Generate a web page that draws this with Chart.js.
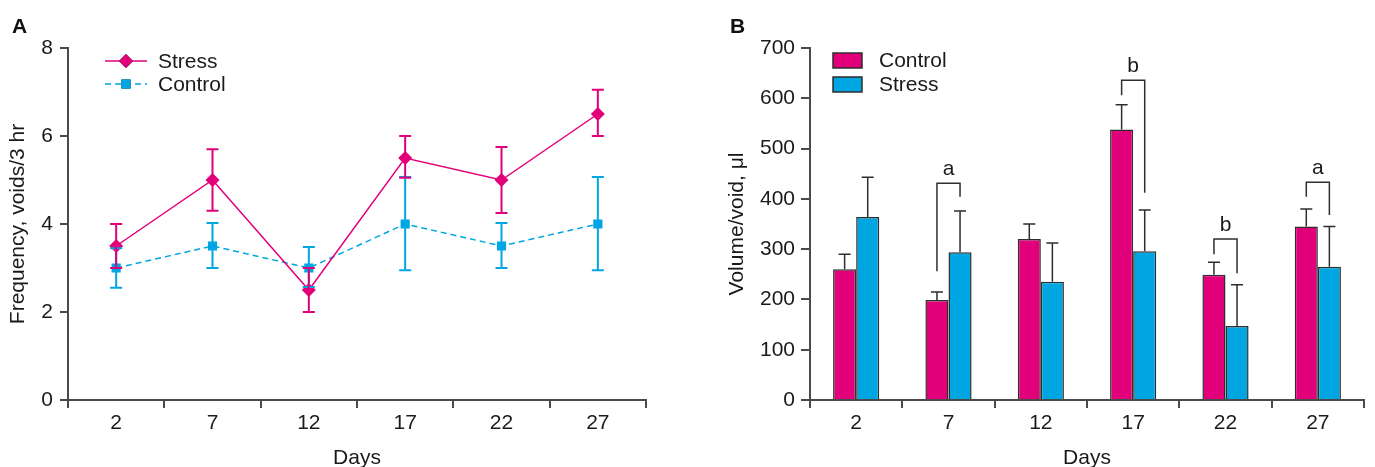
<!DOCTYPE html>
<html>
<head>
<meta charset="utf-8">
<script src="https://cdn.jsdelivr.net/npm/chart.js@4"></script>
<style>
  body { margin: 0; background: #fff; }
  #wrap { position: relative; width: 1375px; height: 467px; font-family: "Liberation Sans", Arial, sans-serif; }
  .panel-label { position: absolute; top: 15px; font-weight: bold; font-size: 21px; line-height: 1; color: #111; }
  #chartA { position: absolute; left: 0; top: 0; }
  #chartB { position: absolute; left: 680px; top: 0; }
</style>
</head>
<body>
<div id="wrap">
  <canvas id="chartA" width="680" height="467"></canvas>
  <canvas id="chartB" width="695" height="467"></canvas>
  <div class="panel-label" style="left:12px">A</div>
  <div class="panel-label" style="left:730px">B</div>
</div>
<script>
// data
const days = ['2', '7', '12', '17', '22', '27'];

// panel A: frequency, voids/3 hr
const freqStress = [3.5, 5.0, 2.5, 5.5, 5.0, 6.5];
const freqStressHi = [4.0, 5.7, 3.0, 6.0, 5.75, 7.05];
const freqStressLo = [3.0, 4.3, 2.0, 5.05, 4.25, 6.0];
const freqControl = [3.0, 3.5, 3.0, 4.0, 3.5, 4.0];
const freqControlHi = [3.45, 4.02, 3.48, 5.07, 4.02, 5.07];
const freqControlLo = [2.55, 3.0, 2.57, 2.95, 3.0, 2.95];

// panel B: volume/void, ul
const volControl = [260, 199, 320, 538, 249, 345];
const volControlHi = [290, 215, 350, 587, 274, 380];
const volStress = [364, 294, 235, 296, 147, 265];
const volStressHi = [443, 376, 312, 378, 229, 345];

// significance brackets (day index, top, left leg end, right leg end, label)
const bracketDay = [1, 3, 4, 5];
const bracketTop = [431, 636, 320, 433];
const bracketLeftEnd = [256, 606, 290, 404];
const bracketRightEnd = [404, 412, 252, 368];
const bracketText = ['a', 'b', 'b', 'a'];

const MAG = '#e2007a';
const CYAN = '#00a6e2';
const AXIS = '#4a4a4a';
const TEXT = '#1a1a1a';
const FONT = '"Liberation Sans", Arial, sans-serif';
const FS = 21;

Chart.defaults.font.family = FONT;
Chart.defaults.color = TEXT;

function axisX() {
  return {
    offset: true,
    grid: { offset: true, drawOnChartArea: false, tickLength: 8, color: AXIS, lineWidth: 2 },
    border: { color: AXIS, width: 2 },
    ticks: { font: { size: FS }, color: TEXT, padding: 3 },
    title: { display: true, text: 'Days', font: { size: FS, lineHeight: 0.85 }, color: TEXT, padding: 0 },
    afterFit: s => { s.height = 67; }
  };
}

function drawCapLine(ctx, x, y1, y2, half) {
  ctx.beginPath();
  ctx.moveTo(x, y1);
  ctx.lineTo(x, y2);
  ctx.moveTo(x - half, y2);
  ctx.lineTo(x + half, y2);
  ctx.stroke();
}

const errBarsA = {
  id: 'errBarsA',
  afterDatasetsDraw(chart) {
    const ctx = chart.ctx;
    const y = chart.scales.y;
    const sets = [
      [1, freqControlHi, freqControlLo, CYAN],
      [0, freqStressHi, freqStressLo, MAG]
    ];
    ctx.save();
    ctx.lineWidth = 2;
    sets.forEach(([di, hi, lo, col]) => {
      const meta = chart.getDatasetMeta(di);
      ctx.strokeStyle = col;
      meta.data.forEach((pt, i) => {
        const yh = y.getPixelForValue(hi[i]);
        const yl = y.getPixelForValue(lo[i]);
        ctx.beginPath();
        ctx.moveTo(pt.x, yh); ctx.lineTo(pt.x, yl);
        ctx.moveTo(pt.x - 6, yh); ctx.lineTo(pt.x + 6, yh);
        ctx.moveTo(pt.x - 6, yl); ctx.lineTo(pt.x + 6, yl);
        ctx.stroke();
      });
    });
    ctx.restore();
  }
};

const legendA = {
  id: 'legendA',
  afterDraw(chart) {
    const ctx = chart.ctx;
    const x0 = chart.chartArea.left + 37;
    const rows = [[0, 61], [1, 84]];
    ctx.save();
    rows.forEach(([di, yy]) => {
      const ds = chart.data.datasets[di];
      ctx.strokeStyle = ds.borderColor;
      ctx.lineWidth = 1.5;
      ctx.setLineDash(ds.borderDash || []);
      ctx.beginPath();
      ctx.moveTo(x0, yy); ctx.lineTo(x0 + 42, yy);
      ctx.stroke();
      ctx.setLineDash([]);
      Chart.helpers.drawPoint(ctx, { pointStyle: ds.pointStyle, radius: ds.pointRadius, borderWidth: 0 }, x0 + 21, yy);
      ctx.fillStyle = ds.backgroundColor;
      ctx.fill();
      ctx.fillStyle = TEXT;
      ctx.font = FS + 'px ' + FONT;
      ctx.textBaseline = 'middle';
      ctx.fillText(ds.label, x0 + 53, yy + 1);
    });
    ctx.restore();
  }
};

new Chart(document.getElementById('chartA'), {
  type: 'line',
  data: {
    labels: days,
    datasets: [
      { label: 'Stress', data: freqStress, borderColor: MAG, backgroundColor: MAG, borderWidth: 1.5,
        pointStyle: 'rectRot', pointRadius: 7, pointBorderWidth: 0, pointBackgroundColor: MAG },
      { label: 'Control', data: freqControl, borderColor: CYAN, backgroundColor: CYAN, borderWidth: 1.5,
        borderDash: [6, 4], pointStyle: 'rect', pointRadius: 6.5, pointBorderWidth: 0, pointBackgroundColor: CYAN }
    ]
  },
  options: {
    responsive: false,
    animation: false,
    layout: { padding: { left: 0, right: 34, top: 48, bottom: 0 } },
    plugins: { legend: { display: false }, tooltip: { enabled: false } },
    scales: {
      x: axisX(),
      y: {
        min: 0, max: 8,
        ticks: { stepSize: 2, font: { size: FS }, color: TEXT, padding: 7 },
        grid: { drawOnChartArea: false, tickLength: 8, color: AXIS, lineWidth: 2 },
        border: { color: AXIS, width: 2 },
        title: { display: true, text: 'Frequency, voids/3 hr', font: { size: FS, lineHeight: 1 }, color: TEXT, padding: { top: 8, bottom: 0 } },
        afterFit: s => { s.width = 68; }
      }
    }
  },
  plugins: [errBarsA, legendA]
});

const errBarsB = {
  id: 'errBarsB',
  afterDatasetsDraw(chart) {
    const ctx = chart.ctx;
    const y = chart.scales.y;
    const his = [volControlHi, volStressHi];
    ctx.save();
    ctx.strokeStyle = '#2e2e2e';
    ctx.lineWidth = 1.5;
    his.forEach((hi, di) => {
      chart.getDatasetMeta(di).data.forEach((bar, i) => {
        drawCapLine(ctx, bar.x, bar.y, y.getPixelForValue(hi[i]), 6);
      });
    });
    // brackets
    const c = chart.getDatasetMeta(0).data;
    const s = chart.getDatasetMeta(1).data;
    ctx.fillStyle = TEXT;
    ctx.font = FS + 'px ' + FONT;
    ctx.textAlign = 'center';
    ctx.textBaseline = 'alphabetic';
    bracketDay.forEach((d, k) => {
      const xl = c[d].x, xr = s[d].x;
      const yt = y.getPixelForValue(bracketTop[k]);
      ctx.beginPath();
      ctx.moveTo(xl, y.getPixelForValue(bracketLeftEnd[k]));
      ctx.lineTo(xl, yt);
      ctx.lineTo(xr, yt);
      ctx.lineTo(xr, y.getPixelForValue(bracketRightEnd[k]));
      ctx.stroke();
      ctx.fillText(bracketText[k], (xl + xr) / 2, yt - 8);
    });
    ctx.restore();
  }
};

const legendB = {
  id: 'legendB',
  afterDraw(chart) {
    const ctx = chart.ctx;
    const x0 = chart.chartArea.left + 23;
    const rows = [[0, 53], [1, 77]];
    ctx.save();
    rows.forEach(([di, yy]) => {
      const ds = chart.data.datasets[di];
      ctx.fillStyle = ds.backgroundColor;
      ctx.fillRect(x0, yy, 29, 15);
      ctx.strokeStyle = ds.borderColor;
      ctx.lineWidth = 1.5;
      ctx.strokeRect(x0, yy, 29, 15);
      ctx.fillStyle = TEXT;
      ctx.font = FS + 'px ' + FONT;
      ctx.textBaseline = 'middle';
      ctx.fillText(ds.label, x0 + 46, yy + 8.5);
    });
    ctx.restore();
  }
};

new Chart(document.getElementById('chartB'), {
  type: 'bar',
  data: {
    labels: days,
    datasets: [
      { label: 'Control', data: volControl, backgroundColor: MAG, borderColor: '#2e2e2e', borderWidth: 1.5,
        categoryPercentage: 0.5, barPercentage: 1.0 },
      { label: 'Stress', data: volStress, backgroundColor: CYAN, borderColor: '#2e2e2e', borderWidth: 1.5,
        categoryPercentage: 0.5, barPercentage: 1.0 }
    ]
  },
  options: {
    responsive: false,
    animation: false,
    layout: { padding: { left: 0, right: 11, top: 48, bottom: 0 } },
    plugins: { legend: { display: false }, tooltip: { enabled: false } },
    scales: {
      x: axisX(),
      y: {
        min: 0, max: 700,
        ticks: { stepSize: 100, font: { size: FS }, color: TEXT, padding: 6 },
        grid: { drawOnChartArea: false, tickLength: 9, color: AXIS, lineWidth: 2 },
        border: { color: AXIS, width: 2 },
        title: { display: true, text: 'Volume/void, \u03bcl', font: { size: FS, lineHeight: 1 }, color: TEXT, padding: { top: 47, bottom: 0 } },
        afterFit: s => { s.width = 130; }
      }
    }
  },
  plugins: [errBarsB, legendB]
});
</script>
</body>
</html>
